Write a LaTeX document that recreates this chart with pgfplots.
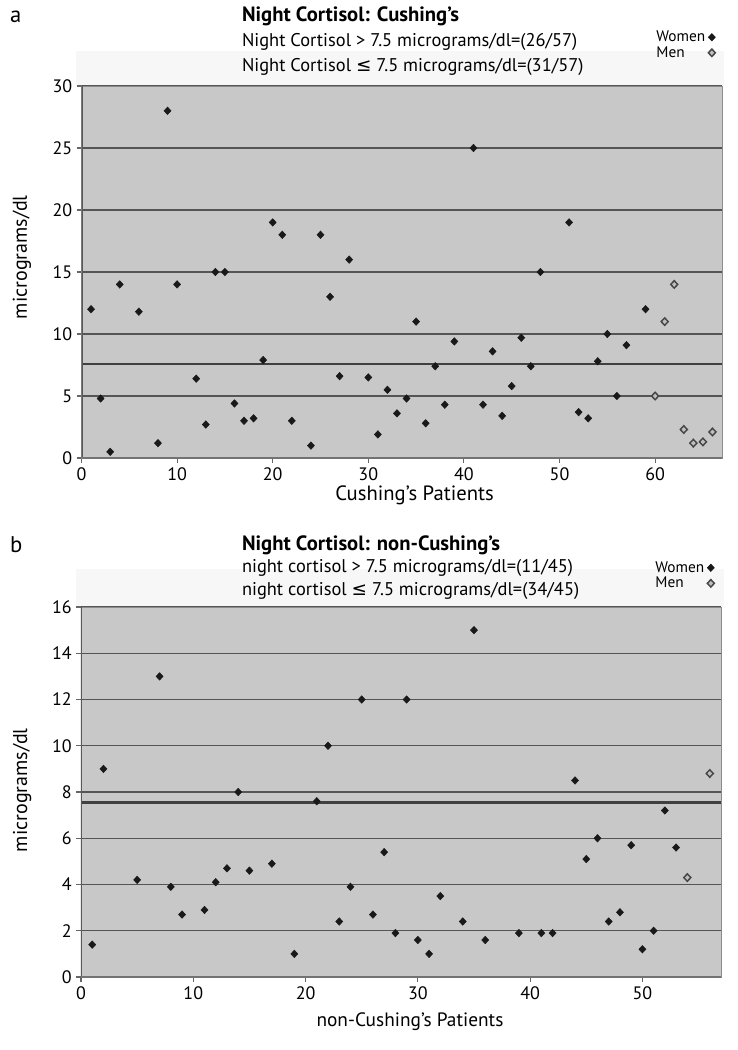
\documentclass[border=0pt]{standalone}
\usepackage{fontspec}
\setmainfont{PT Sans}
\newfontfamily\symfont{DejaVu Sans}
\usepackage{pgfplots}
\pgfplotsset{compat=1.18}
\definecolor{plotbg}{RGB}{200,200,200}
\definecolor{gridc}{RGB}{85,85,85}
\pgfplotsset{
  cortisol/.style={
    scale only axis,
    axis background/.style={fill=plotbg},
    axis line style={draw=black!45, line width=0.7pt},
    ymajorgrids,
    major grid style={draw=gridc, line width=1.1pt},
    tick align=outside,
    xtick pos=left, ytick pos=left,
    major tick length=3.5pt,
    tick style={draw=black!60, line width=0.8pt},
    /pgf/number format/assume math mode=true,
    tick label style={font=\fontsize{13.5}{15}\selectfont},
    legend plot pos=right,
    legend cell align=left,
    legend style={draw=none, fill=none, font=\fontsize{11.5}{12}\selectfont,
      inner sep=0pt, row sep=1.5pt, column sep=2pt, nodes={inner sep=0.3pt}},
    women/.style={only marks, mark=diamond*, mark size=2.8pt,
      mark options={xscale=1.25, fill=black!90, draw=black!90}},
    men/.style={only marks, mark=diamond*, mark size=2.8pt,
      mark options={xscale=1.25, fill=black!25, draw=black!72, line width=1.1pt}},
  }
}
\begin{document}
\begin{tikzpicture}
\path[use as bounding box] (0pt,0pt) rectangle (553.5pt,-787.5pt);
% light bands behind subtitles
\fill[black!3] (57pt,-38pt) rectangle (543pt,-64.5pt);
\fill[black!3] (57pt,-427pt) rectangle (543pt,-455pt);
% ---------- panel a ----------
\node[anchor=west, font=\fontsize{17}{19}\selectfont] at (4pt,-12.5pt) {a};
\node[anchor=west, font=\bfseries\fontsize{15.5}{17}\selectfont] at (178pt,-12.5pt) {Night Cortisol: Cushing’s};
\node[anchor=west, font=\fontsize{13.8}{16}\selectfont] at (178pt,-31.5pt) {Night Cortisol > 7.5 micrograms/dl=(26/57)};
\node[anchor=west, font=\fontsize{13.8}{16}\selectfont] at (178pt,-50.25pt) {Night Cortisol {\symfont ≤} 7.5 micrograms/dl=(31/57)};
\begin{axis}[cortisol,
  at={(61.125pt,-343.5pt)}, anchor=south west,
  width=480.4pt, height=279pt,
  xmin=0, xmax=67, ymin=0, ymax=30,
  xtick={0,10,...,60}, ytick={0,5,...,30},
  xlabel={Cushing’s Patients}, ylabel={micrograms/dl},
  x label style={at={(axis description cs:0.52,-0.1)}, anchor=center, font=\fontsize{15.5}{17}\selectfont},
  y label style={at={(axis description cs:-0.093,0.54)}, anchor=center, font=\fontsize{15}{17}\selectfont},
  legend style={at={(0.99,1.15)}, anchor=north east},
]
\addplot[women] coordinates {
(1,12) (2,4.8) (3,0.5) (4,14) (6,11.8) (8,1.2) (9,28) (10,14) (12,6.4) (13,2.7)
(14,15) (15,15) (16,4.4) (17,3.0) (18,3.2) (19,7.9) (20,19) (21,18) (22,3.0)
(24,1.0) (25,18) (26,13) (27,6.6) (28,16) (30,6.5) (31,1.9) (32,5.5) (33,3.6)
(34,4.8) (35,11) (36,2.8) (37,7.4) (38,4.3) (39,9.4) (41,25) (42,4.3) (43,8.6)
(44,3.4) (45,5.8) (46,9.7) (47,7.4) (48,15) (51,19) (52,3.7) (53,3.2) (54,7.8)
(55,10) (56,5.0) (57,9.1) (59,12)
};
\addlegendentry{Women}
\addplot[men] coordinates {
(60,5) (61,11) (62,14) (63,2.3) (64,1.2) (65,1.3) (66,2.1)
};
\addlegendentry{Men}
\addplot[forget plot, draw=black!75, line width=1.7pt] coordinates {(0,7.6) (67,7.6)};
\draw[black!65, line width=1.5pt] (rel axis cs:0,0) -- (rel axis cs:0,1);
\draw[black!55, line width=1.2pt] (rel axis cs:0,0) -- (rel axis cs:1,0);
\end{axis}
% ---------- panel b ----------
\node[anchor=west, font=\fontsize{17}{19}\selectfont] at (4pt,-408.75pt) {b};
\node[anchor=west, font=\bfseries\fontsize{15.5}{17}\selectfont] at (178pt,-408.75pt) {Night Cortisol: non-Cushing’s};
\node[anchor=west, font=\fontsize{13.8}{16}\selectfont] at (178pt,-426pt) {night cortisol > 7.5 micrograms/dl=(11/45)};
\node[anchor=west, font=\fontsize{13.8}{16}\selectfont] at (178pt,-443.25pt) {night cortisol {\symfont ≤} 7.5 micrograms/dl=(34/45)};
\begin{axis}[cortisol,
  at={(60.75pt,-732.75pt)}, anchor=south west,
  width=480pt, height=277.5pt,
  xmin=0, xmax=57, ymin=0, ymax=16,
  xtick={0,10,...,50}, ytick={0,2,...,16},
  xlabel={non-Cushing’s Patients}, ylabel={micrograms/dl},
  x label style={at={(axis description cs:0.514,-0.122)}, anchor=center, font=\fontsize{14.5}{16}\selectfont},
  y label style={at={(axis description cs:-0.092,0.505)}, anchor=center, font=\fontsize{15}{17}\selectfont},
  legend style={at={(0.99,1.125)}, anchor=north east},
]
\addplot[women] coordinates {
(1,1.4) (2,9) (5,4.2) (7,13) (8,3.9) (9,2.7) (11,2.9) (12,4.1) (13,4.7) (14,8)
(15,4.6) (17,4.9) (19,1.0) (21,7.6) (22,10) (23,2.4) (24,3.9) (25,12) (26,2.7)
(27,5.4) (28,1.9) (29,12) (30,1.6) (31,1.0) (32,3.5) (34,2.4) (35,15) (36,1.6)
(39,1.9) (41,1.9) (42,1.9) (44,8.5) (45,5.1) (46,6.0) (47,2.4) (48,2.8) (49,5.7)
(50,1.2) (51,2.0) (52,7.2) (53,5.6)
};
\addlegendentry{Women}
\addplot[men] coordinates {(54,4.3) (56,8.8)};
\addlegendentry{Men}
\addplot[forget plot, draw=black!75, line width=1.7pt] coordinates {(0,7.55) (57,7.55)};
\draw[black!65, line width=1.5pt] (rel axis cs:0,0) -- (rel axis cs:0,1);
\draw[black!55, line width=1.2pt] (rel axis cs:0,0) -- (rel axis cs:1,0);
\end{axis}
\end{tikzpicture}
\end{document}
